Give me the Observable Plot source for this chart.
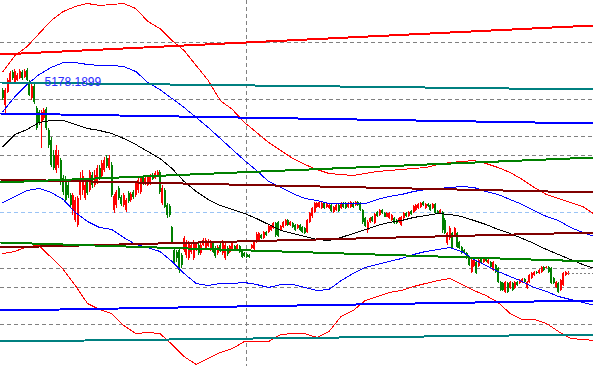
<!DOCTYPE html>
<html><head><meta charset="utf-8">
<script src="https://cdn.jsdelivr.net/npm/d3@7"></script>
<script src="https://cdn.jsdelivr.net/npm/@observablehq/plot@0.6"></script>
<style>html,body{margin:0;padding:0;background:#fff;overflow:hidden}</style>
</head><body><div id="chart"></div>
<script>
// OHLC candles: [open, high, low, close]
const candles = [
[5170,5172,5160,5162],[5155,5172,5147,5170],[5168,5182,5167,5180],[5178,5189,5176,5187],[5188,5190,5180,5182],
[5178,5191,5177,5189],[5180,5187,5179,5185],[5182,5191,5181,5189],[5188,5190,5180,5182],[5183,5191,5182,5189],
[5190,5192,5179,5180],[5178,5180,5164,5165],[5162,5176,5160,5174],[5174,5176,5156,5158],[5152,5154,5130,5132],
[5148,5150,5135,5138],[5138,5150,5112,5148],[5142,5152,5140,5150],[5151,5153,5130,5132],[5130,5132,5112,5115],
[5120,5123,5093,5095],[5105,5110,5090,5092],[5090,5115,5087,5110],[5095,5110,5092,5105],[5100,5102,5075,5078],
[5082,5085,5065,5068],[5080,5084,5057,5060],[5075,5080,5062,5065],[5065,5067,5052,5055],[5050,5067,5045,5065],
[5040,5063,5038,5060],[5035,5064,5033,5062],[5065,5088,5060,5082],[5070,5090,5065,5084],[5062,5080,5060,5075],
[5080,5082,5065,5067],[5070,5090,5068,5088],[5085,5088,5072,5075],[5075,5090,5073,5085],[5078,5095,5076,5092],
[5092,5095,5080,5082],[5084,5100,5082,5097],[5090,5103,5088,5100],[5102,5105,5092,5094],[5092,5105,5090,5102],
[5095,5098,5063,5065],[5050,5066,5047,5064],[5055,5070,5052,5068],[5072,5074,5060,5062],[5063,5065,5054,5056],
[5055,5067,5053,5065],[5050,5062,5048,5060],[5067,5069,5057,5059],[5060,5068,5058,5066],[5068,5070,5061,5063],
[5065,5079,5063,5077],[5070,5082,5067,5080],[5068,5084,5066,5082],[5083,5085,5075,5077],[5077,5084,5075,5082],
[5075,5085,5074,5083],[5077,5086,5075,5084],[5085,5087,5080,5081],[5082,5089,5081,5087],[5084,5090,5083,5088],
[5088,5090,5066,5068],[5057,5075,5055,5072],[5070,5072,5052,5053],[5055,5057,5042,5045],[5054,5056,5043,5045],
[5033,5034,5017,5018],[5010,5012,4996,4998],[5008,5010,4998,5002],[5010,5012,4987,4990],[5005,5007,4992,4995],
[5010,5024,5008,5022],[5005,5020,5002,5018],[5002,5019,5000,5017],[5008,5017,5006,5015],[5002,5020,5000,5018],
[5010,5018,5009,5016],[5015,5017,5005,5007],[5007,5017,5005,5015],[5015,5022,5014,5020],[5012,5022,5011,5020],
[5014,5021,5013,5019],[5010,5020,5009,5017],[5017,5019,5007,5008],[5012,5014,5002,5004],[5007,5015,5005,5013],
[5015,5017,5008,5009],[5007,5020,5005,5018],[5002,5017,5000,5015],[5012,5014,5004,5006],[5008,5015,5007,5014],
[5010,5019,5009,5017],[5014,5015,5009,5010],[5011,5016,5010,5015],[5014,5015,5007,5008],[5010,5011,5002,5003],
[5007,5008,5003,5004],[5006,5007,5002,5003],[5005,5006,5002,5003],[5012,5016,5011,5015],[5011,5019,5010,5018],
[5018,5028,5017,5026],[5020,5028,5019,5027],[5025,5026,5021,5022],[5022,5029,5021,5028],[5028,5029,5024,5025],
[5028,5036,5027,5034],[5030,5035,5029,5034],[5032,5038,5031,5037],[5037,5038,5023,5025],[5038,5039,5023,5024],
[5030,5035,5029,5034],[5033,5039,5032,5038],[5035,5041,5034,5040],[5040,5041,5034,5035],[5035,5039,5034,5038],
[5037,5038,5032,5033],[5035,5036,5029,5030],[5032,5036,5031,5035],[5035,5036,5029,5030],[5033,5034,5027,5028],
[5032,5033,5026,5027],[5028,5041,5027,5040],[5038,5048,5037,5047],[5044,5053,5042,5052],[5048,5058,5047,5057],
[5053,5058,5052,5057],[5053,5059,5052,5058],[5052,5058,5051,5057],[5057,5058,5051,5052],[5053,5057,5052,5056],
[5052,5056,5051,5055],[5055,5056,5048,5049],[5048,5054,5047,5053],[5050,5056,5049,5055],[5055,5056,5048,5049],
[5052,5058,5051,5057],[5057,5058,5052,5053],[5057,5058,5051,5052],[5053,5058,5052,5057],[5053,5059,5052,5058],
[5057,5058,5052,5053],[5055,5059,5054,5058],[5058,5059,5054,5055],[5057,5058,5049,5050],[5050,5051,5036,5038],
[5042,5043,5033,5034],[5030,5040,5027,5038],[5038,5043,5037,5042],[5043,5044,5038,5039],[5037,5047,5036,5046],
[5048,5049,5043,5044],[5045,5051,5044,5050],[5050,5051,5046,5047],[5047,5048,5043,5043],[5043,5048,5043,5047],
[5042,5048,5041,5047],[5040,5046,5039,5045],[5042,5043,5036,5037],[5040,5041,5036,5037],[5038,5043,5037,5042],
[5035,5044,5034,5043],[5042,5048,5041,5047],[5047,5048,5043,5044],[5044,5049,5043,5048],[5049,5050,5045,5046],
[5048,5055,5047,5054],[5050,5056,5049,5055],[5052,5057,5051,5056],[5053,5058,5052,5057],[5058,5059,5054,5055],
[5052,5057,5051,5056],[5056,5057,5053,5054],[5055,5056,5049,5050],[5052,5057,5051,5056],[5056,5057,5046,5047],
[5049,5050,5046,5047],[5047,5051,5046,5050],[5048,5049,5027,5030],[5040,5042,5026,5027],[5017,5028,5015,5027],
[5022,5034,5020,5032],[5027,5028,5011,5012],[5025,5033,5024,5032],[5027,5028,5012,5013],[5018,5019,5011,5012],
[5013,5014,5006,5007],[5010,5011,5006,5007],[5007,5008,5001,5002],[5003,5004,4994,4995],[4988,5001,4987,5000],
[4994,5001,4993,5000],[4998,4999,4986,4987],[4994,5001,4993,5000],[5002,5003,4996,4997],[4998,5003,4997,5002],
[5002,5003,4998,4999],[4997,5001,4996,5000],[4998,4999,4992,4993],[4990,4999,4989,4998],[4995,4996,4987,4988],
[4992,4993,4977,4978],[4978,4979,4969,4970],[4977,4978,4969,4970],[4968,4979,4967,4978],[4977,4978,4967,4968],
[4972,4979,4971,4978],[4977,4978,4969,4970],[4972,4979,4971,4978],[4978,4979,4974,4975],[4977,4981,4976,4980],
[4978,4982,4977,4981],[4981,4982,4977,4978],[4972,4979,4971,4978],[4978,4986,4977,4985],[4982,4988,4981,4987],
[4985,4989,4984,4988],[4988,4989,4986,4987],[4987,4991,4986,4990],[4988,4994,4987,4993],[4993,4994,4989,4990],
[4992,4994,4992,4993],[4993,4994,4987,4988],[4992,4993,4976,4977],[4982,4983,4976,4977],[4973,4979,4972,4978],
[4977,4978,4967,4968],[4970,4981,4969,4980],[4975,4988,4974,4987],[4985,4989,4984,4988],[4986,4989,4985,4987]
];

// Bollinger-style bands sampled every 5 bars (bar 0, 5, ..., 245)
const upperRed = [5189,5205,5214,5227,5240,5249,5254,5257,5255,5256,5257,5252,5239,5232,5220,5210,5195,5180,5160,5151,5138,5128,5118,5110,5102,5096,5091,5087,5086,5085,5087,5089,5090,5091,5092,5093,5096,5098,5099,5100,5097,5093,5088,5081,5073,5066,5062,5058,5054,5046];
const upperBlue = [5149,5164,5176,5186,5193,5198,5198,5196,5195,5195,5194,5189,5178,5171,5162,5153,5143,5133,5122,5111,5100,5090,5079,5073,5067,5062,5060,5057,5057,5057,5057,5061,5064,5066,5069,5071,5072,5073,5074,5073,5069,5066,5061,5056,5050,5044,5040,5033,5028,5024];
const middle = [5114,5126,5131,5138,5140,5140,5136,5132,5130,5127,5122,5116,5109,5102,5092,5079,5069,5061,5055,5051,5047,5042,5036,5030,5027,5024,5021,5020,5023,5027,5031,5035,5038,5040,5043,5045,5047,5046,5044,5040,5036,5031,5027,5022,5017,5011,5006,5001,4996,4992];
const lowerBlue = [5058,5064,5070,5072,5068,5061,5048,5039,5033,5031,5023,5016,5013,5009,4999,4987,4977,4975,4977,4977,4978,4976,4973,4976,4976,4973,4970,4971,4980,4987,4993,4996,4999,5002,5006,5009,5011,5013,5009,5001,4995,4989,4984,4979,4973,4969,4964,4961,4958,4955];
const lowerRed = [5007,5009,5014,5015,5003,4991,4975,4957,4951,4947,4935,4927,4928,4927,4916,4904,4896,4902,4908,4912,4919,4919,4919,4926,4927,4927,4923,4929,4944,4950,4960,4964,4968,4970,4974,4977,4980,4982,4976,4970,4965,4958,4947,4941,4941,4937,4929,4922,4921,4920];

// Trend lines: price at left edge and right edge
const trendNames = ["red", "teal", "blue", "maroon", "green", "maroon2", "green2", "blue2", "teal2"];
const trendStart = [5206, 5178, 5147, 5081, 5078, 5013, 5018, 4950, 4919];
const trendEnd   = [5235, 5171, 5137, 5068, 5103, 5028, 4999, 4960, 4926];

// Horizontal levels
const grayLevels = [5218, 5161, 5124, 5105, 4992, 4973, 4936];
const blueLevel = [5048];
const separatorBar = [101];
const labelText = ["5178.1899"];
const labelBar = [17.2];
const labelPrice = [5178.19];

const xDomain = [-1, 244.5];
const yDomain = [4894, 5260];

const bars = candles.map(([o, h, l, c], i) => ({i, o, h, l, c, up: c >= o}));
const bandIdx = d3.range(0, 246, 5);
const bandColors = {upperRed: "#ff0000", upperBlue: "#0000ff", middle: "#000000", lowerBlue: "#0000ff", lowerRed: "#ff0000"};
const bandData = {upperRed, upperBlue, middle, lowerBlue, lowerRed};
const trendColors = {red: "#ff0000", teal: "#008080", blue: "#0000ff", maroon: "#800000", green: "#008000", maroon2: "#800000", green2: "#008000", blue2: "#0000ff", teal2: "#008080"};
const trends = trendNames.map((n, k) => ({n, y1: trendStart[k], y2: trendEnd[k]}));
const last = bars[bars.length - 1];

const marks = [
  Plot.ruleY(grayLevels, {stroke: "#808080", strokeDasharray: "4,3", shapeRendering: "crispEdges"}),
  Plot.ruleY(blueLevel, {stroke: "#99c3f5", strokeDasharray: "4,3", shapeRendering: "crispEdges"}),
  Plot.ruleX(separatorBar, {stroke: "#808080", strokeDasharray: "4,3", shapeRendering: "crispEdges"}),
  Plot.ruleX(bars, {x: "i", y1: "l", y2: "h", stroke: d => d.up ? "#ff0000" : "#008000", shapeRendering: "crispEdges"}),
  Plot.ruleX(bars, {x: "i", y1: "o", y2: "c", stroke: d => d.up ? "#ff0000" : "#008000", strokeWidth: 2, shapeRendering: "crispEdges"}),
];
for (const [k, arr] of Object.entries(bandData)) {
  marks.push(Plot.line(arr.map((v, j) => ({x: bandIdx[j], y: v})), {x: "x", y: "y", stroke: bandColors[k], strokeWidth: 1, shapeRendering: "crispEdges"}));
}
marks.push(Plot.link(trends, {x1: () => xDomain[0], x2: () => xDomain[1], y1: "y1", y2: "y2", stroke: d => trendColors[d.n], strokeWidth: 2, shapeRendering: "crispEdges"}));
marks.push(Plot.ruleY([last], {y: "c", x1: "i", x2: () => xDomain[1], stroke: "#808080", strokeDasharray: "2,2", shapeRendering: "crispEdges"}));
marks.push(Plot.text(labelText.map((t, k) => ({t, x: labelBar[k], y: labelPrice[k]})), {x: "x", y: "y", text: "t", textAnchor: "start", lineAnchor: "middle", fill: "#2a2aff", fontSize: 12, fontFamily: "Liberation Sans, Arial, sans-serif"}));

const chart = Plot.plot({
  width: 593, height: 366, margin: 0,
  x: {domain: xDomain, axis: null},
  y: {domain: yDomain, axis: null},
  clip: true,
  style: {background: "#ffffff", overflow: "hidden"},
  marks
});
document.getElementById("chart").appendChild(chart);
</script></body></html>
